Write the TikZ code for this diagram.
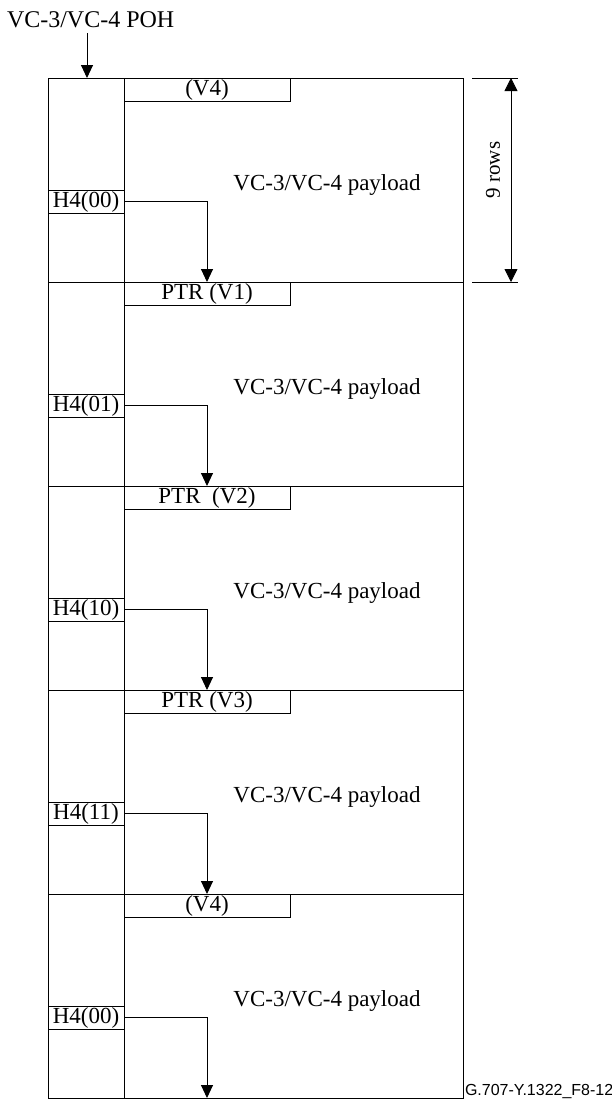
\documentclass[tikz,border=0pt]{standalone}
\usepackage{fontspec}
\setmainfont{Liberation Serif}
\newfontfamily\figfont{Liberation Sans}
\usetikzlibrary{arrows.meta,positioning,calc}

\begin{document}
\begin{tikzpicture}[x=1pt, y=-1pt, line width=0.9pt,
        every node/.style={inner sep=0pt, outer sep=0pt, font=\fontsize{23}{27}\selectfont},
        rowbox/.style={rectangle, draw, anchor=north west, minimum width=415pt, minimum height=204pt},
        pohcol/.style={rectangle, draw, anchor=north west, minimum width=76pt, minimum height=204pt},
        ptrbox/.style={rectangle, draw, anchor=north west, minimum width=166pt, minimum height=23pt},
        hbox/.style={rectangle, draw, anchor=north west, minimum width=76pt, minimum height=23pt},
        arrow/.style={-{Triangle[width=12pt,length=13pt]}, line width=0.9pt},
        dimarrow/.style={{Triangle[width=13pt,length=13pt]}-{Triangle[width=13pt,length=13pt]}, line width=0.8pt}
    ]
    \useasboundingbox (0,0) rectangle (612,1104);
    \node[anchor=base west, font=\fontsize{24}{28}\selectfont] (pohlbl) at (7,27) {VC-3/VC-4 POH};
    % five 9-row blocks of the multiframe
    \foreach \ptr/\hf [count=\i from 0] in {{(V4)}/{H4(00)}, {PTR (V1)}/{H4(01)}, {PTR~~(V2)}/{H4(10)}, {PTR (V3)}/{H4(11)}, {(V4)}/{H4(00)}}{
        \pgfmathsetmacro\y{78+204*\i}
        \node[rowbox] (row\i) at (48,\y) {};
        \node[pohcol] (poh\i) at (48,\y) {};
        \node[ptrbox] (ptr\i) at (124,\y) {\ptr};
        \node[hbox] (h4\i) at (48,\y+112) {\hf};
        \node[anchor=base] (pay\i) at (327,\y+112) {VC-3/VC-4 payload};
        \draw[arrow] (h4\i.east) -| (ptr\i |- row\i.south);
    }
    \coordinate (pohtip) at (87,33);
    \draw[arrow] (pohtip) -- (pohtip |- row0.north);
    % 9 rows dimension
    \draw[line width=0.6pt] ($(row0.north east)+(9,0)$) coordinate (dimtop) -- ++(46,0);
    \draw[line width=0.6pt] ($(row0.south east)+(9,0)$) coordinate (dimbot) -- ++(46,0);
    \draw[dimarrow] ($(dimtop)+(39,0)$) -- ($(dimbot)+(39,0)$);
    \node[rotate=90, font=\fontsize{21}{25}\selectfont] (rows) at (493,170) {9 rows};
    \node[anchor=base west, font=\figfont\fontsize{16}{18}\selectfont] (figid) at (465,1095) {G.707-Y.1322\_F8-12};
\end{tikzpicture}
\end{document}
